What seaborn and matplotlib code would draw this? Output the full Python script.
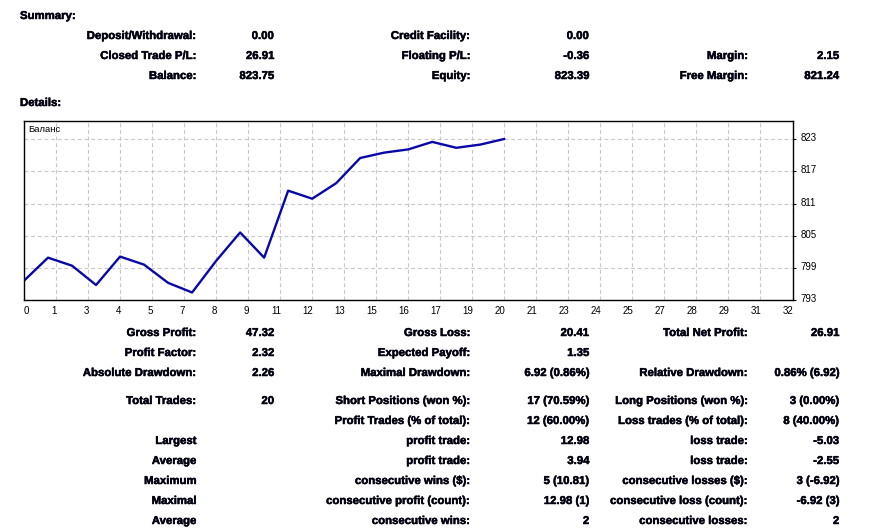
import matplotlib
matplotlib.use("Agg")
import matplotlib.pyplot as plt
import matplotlib.transforms as mtransforms
import matplotlib.patheffects as pe
import numpy as np
import pandas as pd
import seaborn as sns

# ---------------- data ----------------
trade_index = list(range(21))
balance = [796.6, 800.9, 799.4, 795.8, 801.1, 799.6, 796.2, 794.4, 800.3, 805.6,
           800.9, 813.4, 811.9, 814.8, 819.5, 820.5, 821.1, 822.5, 821.4, 822.0, 823.05]

x_tick_labels = ["0", "1", "3", "4", "5", "7", "8", "9", "11", "12", "13", "15", "16",
                 "17", "19", "20", "21", "23", "24", "25", "27", "28", "29", "31", "32"]
y_tick_values = [793, 799, 805, 811, 817, 823]
series_label = "Баланс"

summary_rows = [
    [("Deposit/Withdrawal:", "0.00"), ("Credit Facility:", "0.00"), ("", "")],
    [("Closed Trade P/L:", "26.91"), ("Floating P/L:", "-0.36"), ("Margin:", "2.15")],
    [("Balance:", "823.75"), ("Equity:", "823.39"), ("Free Margin:", "821.24")],
]

detail_rows = [
    [("Gross Profit:", "47.32"), ("Gross Loss:", "20.41"), ("Total Net Profit:", "26.91")],
    [("Profit Factor:", "2.32"), ("Expected Payoff:", "1.35"), ("", "")],
    [("Absolute Drawdown:", "2.26"), ("Maximal Drawdown:", "6.92 (0.86%)"), ("Relative Drawdown:", "0.86% (6.92)")],
    [("Total Trades:", "20"), ("Short Positions (won %):", "17 (70.59%)"), ("Long Positions (won %):", "3 (0.00%)")],
    [("", ""), ("Profit Trades (% of total):", "12 (60.00%)"), ("Loss trades (% of total):", "8 (40.00%)")],
    [("Largest", ""), ("profit trade:", "12.98"), ("loss trade:", "-5.03")],
    [("Average", ""), ("profit trade:", "3.94"), ("loss trade:", "-2.55")],
    [("Maximum", ""), ("consecutive wins ($):", "5 (10.81)"), ("consecutive losses ($):", "3 (-6.92)")],
    [("Maximal", ""), ("consecutive profit (count):", "12.98 (1)"), ("consecutive loss (count):", "-6.92 (3)")],
    [("Average", ""), ("consecutive wins:", "2"), ("consecutive losses:", "2")],
]

# ---------------- figure ----------------
sns.set_style("white")
plt.rcParams['font.family'] = ['Liberation Sans', 'DejaVu Sans']

W, H = 889, 530
fig = plt.figure(figsize=(W / 100, H / 100), dpi=100)

def fx(px):
    return px / W

def fy(py):
    return 1 - py / H

ax_left, ax_right, ax_top, ax_bottom = 24, 792.5, 121, 300
ax = fig.add_axes([fx(ax_left), fy(ax_bottom), fx(ax_right) - fx(ax_left), fy(ax_top) - fy(ax_bottom)])

df = pd.DataFrame({"trade": trade_index, "balance": balance})
sns.lineplot(data=df, x="trade", y="balance", ax=ax, color="#0808a8", linewidth=1.7)

ax.set_xlim(0, 32)
ax.set_ylim(793, 826.4)

x_ticks = [i * 4 / 3 for i in range(len(x_tick_labels))]
ax.set_xticks(x_ticks)
ax.set_xticklabels(x_tick_labels)
ax.set_yticks(y_tick_values)
ax.set_yticklabels([str(v) for v in y_tick_values])

ax.yaxis.tick_right()
ax.tick_params(axis="both", which="both", labelsize=7, colors="black", length=2.5,
               width=0.8, direction="out", pad=1.5)
ax.tick_params(axis="y", pad=3)
for i, lab in enumerate(ax.get_xticklabels()):
    lab.set_horizontalalignment("left" if i == 0 else "right")
    lab.set_transform(lab.get_transform() + mtransforms.ScaledTranslation(0 if i == 0 else 1 / 100, 0, fig.dpi_scale_trans))
for lab in ax.get_yticklabels():
    lab.set_transform(lab.get_transform() + mtransforms.ScaledTranslation(0, 2 / 100, fig.dpi_scale_trans))

ax.grid(True, color="#c8c8c8", linestyle=(0, (3.5, 2.5)), linewidth=0.8)
ax.set_axisbelow(True)
for s in ax.spines.values():
    s.set_color("black")
    s.set_linewidth(1.0)
ax.set_xlabel("")
ax.set_ylabel("")
ax.text(0.005, 0.955, series_label, transform=ax.transAxes, fontsize=6.8,
        ha="left", va="center", color="black")

# ---------------- text tables ----------------
fs = 8.2
heavy = [pe.withStroke(linewidth=0.35, foreground="#000010")]
label_right = [196.7, 470.7, 748.3]
value_right = [274.3, 589.3, 839.3]

def put(x, y, s, ha):
    fig.text(fx(x), fy(y), s, fontsize=fs, fontweight="bold", ha=ha, va="center",
             color="#000010", path_effects=heavy)

put(20, 16, "Summary:", "left")
put(20, 103, "Details:", "left")

summary_y = [36, 56, 76]
for row, y in zip(summary_rows, summary_y):
    for c, (lab, val) in enumerate(row):
        if lab:
            put(label_right[c], y, lab, "right")
        if val:
            put(value_right[c], y, val, "right")

detail_y = [333, 353, 373, 401, 421, 441, 461, 481, 501, 521]
for row, y in zip(detail_rows, detail_y):
    for c, (lab, val) in enumerate(row):
        if lab:
            put(label_right[c], y, lab, "right")
        if val:
            put(value_right[c], y, val, "right")

fig.savefig("out.png", dpi=100, facecolor="white")
